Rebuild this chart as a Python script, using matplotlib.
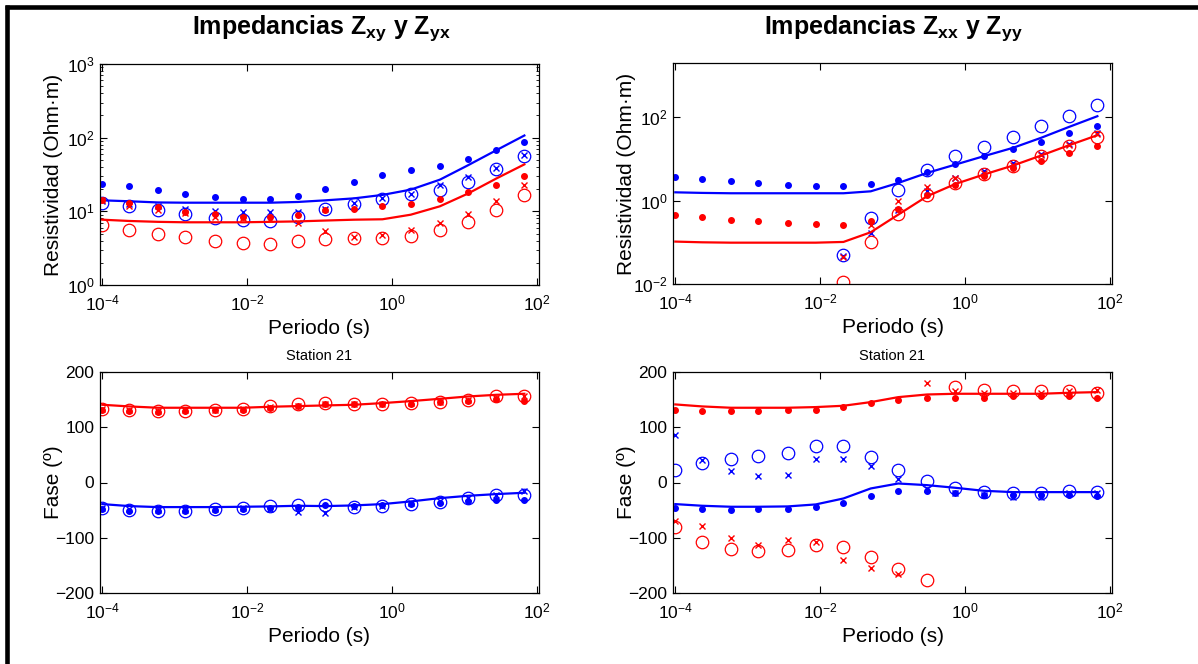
import numpy as np
import matplotlib
matplotlib.use("Agg")
import matplotlib.pyplot as plt
from matplotlib.lines import Line2D
from matplotlib.ticker import LogLocator, NullLocator, FixedLocator

plt.rcParams['font.family'] = ['Liberation Sans', 'DejaVu Sans']
plt.rcParams['mathtext.fontset'] = 'custom'
plt.rcParams['mathtext.rm'] = 'Liberation Sans'
plt.rcParams['mathtext.it'] = 'Liberation Sans:italic'
plt.rcParams['mathtext.bf'] = 'Liberation Sans:bold'

nan = np.nan

# periods (s)
periods = [1.0e-4, 2.35e-4, 5.85e-4, 1.39e-3, 3.55e-3, 8.7e-3, 2.1e-2, 5.0e-2,
           1.2e-1, 3.0e-1, 7.4e-1, 1.82, 4.6, 11.2, 27.5, 67.6]

# apparent resistivity, off-diagonal (blue / red)
rho_b_line = [14.1, 13.7, 13.2, 13.1, 13.1, 13.1, 13.1, 13.4, 14.1, 15.0, 16.7, 19.7, 26.9, 42.1, 67.3, 107]
rho_b_dot = [23.8, 22.1, 19.3, 17.4, 15.8, 14.9, 14.9, 16.3, 20.1, 25.3, 30.8, 36.8, 41.7, 50.8, 67.3, 86.5]
rho_b_circ = [13.0, 11.8, 10.3, 9.3, 8.1, 7.7, 7.5, 8.4, 10.6, 12.6, 14.9, 17.0, 19.3, 25.3, 37.2, 57.0]
rho_b_x = [13.8, 12.4, 11.8, 10.6, 10.1, 9.8, 9.8, 9.8, 10.6, 13.0, 15.2, 17.4, 22.8, 29.0, 39.2, 58.7]
rho_r_line = [7.7, 7.4, 7.2, 7.1, 7.1, 7.1, 7.2, 7.3, 7.5, 7.7, 7.8, 9.0, 11.7, 17.4, 27.8, 43.4]
rho_r_dot = [14.1, 13.0, 11.5, 9.8, 9.1, 8.4, 8.4, 9.0, 10.3, 10.8, 11.9, 12.7, 14.7, 18.1, 22.5, 30.5]
rho_r_circ = [6.5, 5.6, 5.0, 4.5, 3.9, 3.7, 3.6, 3.9, 4.2, 4.3, 4.3, 4.6, 5.5, 7.2, 10.3, 16.5]
rho_r_x = [14.4, 11.7, 10.5, 9.5, 8.4, 8.2, 7.9, 6.9, 5.4, 4.5, 4.8, 5.5, 6.9, 9.3, 14.0, 23.0]

# apparent resistivity, diagonal (blue / red)
rhd_b_line = [1.58, 1.53, 1.50, 1.50, 1.50, 1.50, 1.50, 1.67, 2.65, 4.61, 7.31, 11.6, 18.4, 31.9, 58.6, 105.7]
rhd_b_dot = [3.77, 3.31, 2.97, 2.61, 2.33, 2.21, 2.21, 2.47, 3.13, 4.79, 7.7, 11.8, 17.7, 26.1, 42.1, 63.1]
rhd_b_circ = [nan, nan, nan, nan, nan, nan, 0.049, 0.384, 1.77, 5.55, 11.6, 19.1, 33.7, 60.8, 109.6, 201]
rhd_b_x = [nan, nan, nan, nan, nan, nan, 0.046, 0.168, 0.61, 1.67, 3.50, 5.06, 8.02, 13.2, 22.9, 42.1]
rhd_r_line = [0.104, 0.100, 0.098, 0.098, 0.098, 0.098, 0.102, 0.174, 0.461, 1.27, 2.51, 4.21, 6.92, 12.0, 21.3, 37.0]
rhd_r_dot = [0.445, 0.398, 0.350, 0.331, 0.296, 0.281, 0.265, 0.319, 0.643, 1.34, 2.42, 3.84, 6.08, 8.79, 13.9, 20.9]
rhd_r_circ = [nan, nan, nan, nan, nan, nan, 0.0112, 0.100, 0.479, 1.39, 2.65, 4.45, 6.92, 12.0, 20.1, 33.7]
rhd_r_x = [nan, nan, nan, nan, nan, nan, 0.0445, 0.265, 0.96, 2.09, 3.50, 4.61, 7.31, 12.7, 22.1, 39.8]

# phase, off-diagonal (deg)
phi_r_line = [140.7, 137.7, 135.3, 135.3, 135.3, 135.3, 137.1, 138.3, 139.5, 140.7, 143.7, 147.3, 151.5, 155.7, 158.7, 160.6]
phi_r_dot = [131.7, 129.3, 127.5, 129.3, 130.5, 131.7, 135.3, 138.3, 142.5, 142.5, 142.5, 142.5, 144.9, 147.3, 150.3, 147.3]
phi_r_circ = [133.5, 130.5, 128.7, 128.7, 131.7, 133.5, 137.7, 141.3, 143.7, 142.5, 142.5, 143.7, 145.5, 149.7, 155.7, 156.9]
phi_r_x = [133.5, 130.5, 129.3, 130.5, 131.7, 133.5, 136.5, 137.7, 141.3, 142.5, 142.5, 143.7, 145.5, 148.5, 153.3, 155.7]
phi_b_line = [-39.1, -42.7, -44.5, -44.5, -44.5, -43.9, -43.3, -42.1, -42.7, -41.5, -39.1, -34.3, -28.3, -24.1, -21.0, -18.6]
phi_b_dot = [-47.5, -51.1, -51.7, -51.1, -49.9, -47.5, -45.7, -43.9, -41.5, -42.7, -41.5, -39.1, -36.7, -34.3, -31.9, -31.9]
phi_b_circ = [-46.9, -49.9, -51.1, -51.1, -48.7, -46.3, -42.7, -40.9, -41.5, -43.9, -42.7, -39.7, -34.9, -28.3, -22.9, -22.2]
phi_b_x = [-45.7, -48.7, -49.9, -49.9, -47.5, -46.3, -48.1, -52.9, -54.7, -45.1, -42.7, -37.9, -34.3, -27.7, -22.9, -15.6]

# phase, diagonal (deg)
phd_r_line = [141.3, 137.7, 135.3, 135.3, 135.3, 136.5, 138.9, 145.5, 154.5, 159.3, 160.6, 160.6, 160.6, 160.6, 162.4, 163.6]
phd_r_dot = [131.7, 129.3, 128.7, 129.9, 130.5, 131.7, 137.1, 143.7, 149.7, 153.3, 153.3, 153.3, 156.3, 156.3, 155.7, 153.3]
phd_r_circ = [-81.2, -108.2, -119.7, -123.3, -122.1, -113.6, -117.3, -135.3, -156.3, -175.6, 172.6, 166.6, 164.8, 164.8, 164.8, 162.4]
phd_r_x = [-70.4, -78.8, -100.4, -113.0, -104.0, -107.6, -140.1, -155.1, -166.0, 179.8, 165.4, 162.4, 161.8, 161.8, 164.8, 166.6]
phd_b_line = [-39.1, -42.1, -43.9, -43.9, -43.3, -39.7, -28.9, -10.8, -1.8, -4.8, -9.6, -15.0, -17.4, -17.4, -17.4, -17.4]
phd_b_dot = [-46.9, -48.7, -50.5, -48.7, -48.7, -44.5, -37.9, -25.3, -16.2, -15.6, -19.8, -23.5, -23.5, -23.5, -22.9, -25.3]
phd_b_circ = [23.5, 36.1, 42.7, 48.1, 54.1, 65.5, 65.5, 46.3, 23.5, 2.4, -10.2, -16.8, -18.6, -18.6, -15.6, -18.0]
phd_b_x = [85.4, 40.3, 20.4, 11.4, 13.2, 42.1, 42.1, 30.7, 7.2, -12.6, -19.8, -23.5, -25.9, -25.9, -19.8, -18.6]

W, H = 1198, 664
fig = plt.figure(figsize=(W / 100, H / 100), dpi=100)


def add_axes(x0, y0, x1, y1):
    return fig.add_axes([x0 / W, 1 - y1 / H, (x1 - x0) / W, (y1 - y0) / H])


def draw(ax, line, dot, circ, cross, color):
    ax.plot(periods, line, '-', color=color, lw=1.6)
    ax.plot(periods, dot, '.', color=color, ms=8)
    ax.plot(periods, circ, 'o', mfc='none', mec=color, ms=9, mew=0.9)
    ax.plot(periods, cross, 'x', color=color, ms=4.5, mew=1.0)


ax1 = add_axes(100, 64, 539, 285)
ax2 = add_axes(673, 63, 1112, 284)
ax3 = add_axes(100, 372, 539, 593)
ax4 = add_axes(673, 372, 1112, 593)

draw(ax1, rho_b_line, rho_b_dot, rho_b_circ, rho_b_x, 'blue')
draw(ax1, rho_r_line, rho_r_dot, rho_r_circ, rho_r_x, 'red')
draw(ax2, rhd_b_line, rhd_b_dot, rhd_b_circ, rhd_b_x, 'blue')
draw(ax2, rhd_r_line, rhd_r_dot, rhd_r_circ, rhd_r_x, 'red')
draw(ax3, phi_r_line, phi_r_dot, phi_r_circ, phi_r_x, 'red')
draw(ax3, phi_b_line, phi_b_dot, phi_b_circ, phi_b_x, 'blue')
draw(ax4, phd_r_line, phd_r_dot, phd_r_circ, phd_r_x, 'red')
draw(ax4, phd_b_line, phd_b_dot, phd_b_circ, phd_b_x, 'blue')

for ax in (ax1, ax2, ax3, ax4):
    ax.set_xscale('log')
    ax.set_xlim(10 ** -4.032, 10 ** 2.032)
    ax.xaxis.set_major_locator(FixedLocator([1e-4, 1e-2, 1e0, 1e2]))
    ax.xaxis.set_minor_locator(NullLocator())
    ax.tick_params(which='both', direction='in', top=True, right=True,
                   labelsize=12.5, colors='black')
    ax.tick_params(axis='x', pad=6)
    ax.tick_params(axis='y', pad=4)
    ax.tick_params(which='major', length=5, width=0.8)
    ax.tick_params(which='minor', length=2.5, width=0.6)
    for s in ax.spines.values():
        s.set_linewidth(0.9)
    ax.set_xlabel('Periodo (s)', fontsize=15)
    ax.xaxis.set_label_coords(0.5, -0.152)

ax1.set_yscale('log')
ax1.set_ylim(1, 1000)
ax1.yaxis.set_major_locator(FixedLocator([1, 10, 100, 1000]))
ax1.yaxis.set_minor_locator(LogLocator(base=10, subs=np.arange(2, 10)))
ax1.set_ylabel('Resistividad (Ohm·m)', fontsize=15)

ax2.set_yscale('log')
ax2.set_ylim(1e-2, 10 ** 3.3)
ax2.yaxis.set_major_locator(FixedLocator([1e-2, 1, 100]))
ax2.yaxis.set_minor_locator(NullLocator())
ax2.set_ylabel('Resistividad (Ohm·m)', fontsize=15)

for ax in (ax3, ax4):
    ax.set_ylim(-200, 200)
    ax.set_yticks([-200, -100, 0, 100, 200])
    ax.set_ylabel('Fase (º)', fontsize=15)
    ax.set_title('Station 21', fontsize=10.5, pad=9)

for ax in (ax1, ax2, ax3, ax4):
    ax.yaxis.set_label_coords(-0.085, 0.5)

fig.text(321 / W, 1 - 34 / H, r'$\mathbf{Impedancias\ Z_{xy}\ y\ Z_{yx}}$',
         ha='center', va='baseline', fontsize=18)
fig.text(893 / W, 1 - 34 / H, r'$\mathbf{Impedancias\ Z_{xx}\ y\ Z_{yy}}$',
         ha='center', va='baseline', fontsize=18)

# frame lines at top and left edge
fig.add_artist(Line2D([5 / W, 1], [1 - 7 / H, 1 - 7 / H], color='black', lw=3.3,
                      solid_capstyle='butt'))
fig.add_artist(Line2D([7 / W, 7 / W], [0, 1 - 5 / H], color='black', lw=3.3,
                      solid_capstyle='butt'))

fig.savefig('out.png', dpi=100)
